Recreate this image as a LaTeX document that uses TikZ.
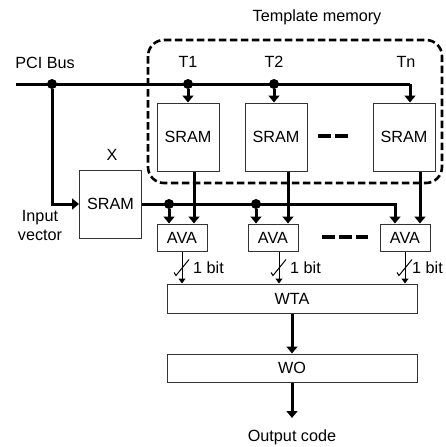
\documentclass[tikz,border=0pt]{standalone}
\usepackage{fontspec}
\setmainfont{Liberation Sans}
\usetikzlibrary{arrows.meta, positioning}

\begin{document}
\begin{tikzpicture}[x=1pt, y=-1pt,
    font=\fontsize{16.2}{19}\selectfont,
    blk/.style={rectangle, draw=black!80, line width=1pt, inner sep=0pt},
    sram/.style={blk, minimum width=62pt, minimum height=68pt},
    ava/.style={blk, minimum width=50pt, minimum height=27pt},
    wide/.style={blk, minimum width=250pt, minimum height=29pt},
    bus/.style={line width=3pt},
    arr/.style={bus, -{Triangle[length=7pt, width=11pt]}},
    bitarr/.style={line width=1pt, -{Triangle[length=5pt, width=7pt]}},
    dot/.style={circle, fill=black, inner sep=0pt, minimum size=10pt},
    gap/.style={line width=3.8pt, dash pattern=on 13pt off 4pt},
    frame/.style={line width=2.6pt, dash pattern=on 7.5pt off 3.5pt, rounded corners=16pt},
    lbl/.style={inner sep=1pt}
]
\useasboundingbox (0,0) rectangle (445,447);

% template memory
\draw[frame] (148,40) rectangle (442,183);
\node[lbl] (tmlbl) at (317,17) {Template memory};

\node[sram] (t1) at (188,137) {SRAM};
\node[sram] (t2) at (276,137) {SRAM};
\node[sram] (tn) at (404,137) {SRAM};
\node[lbl] at (188,62) {T1};
\node[lbl] at (274,62) {T2};
\node[lbl] at (406,62) {Tn};
\draw[gap] (318,136) -- (348,136);

% input side
\node[sram] (xs) at (110.5,204) {SRAM};
\node[lbl] at (112,155) {X};
\node[lbl, align=center] at (40,226) {Input\\vector};
\node[lbl] at (45,63) {PCI Bus};

% PCI bus
\coordinate (busL) at (16,84);
\coordinate (busR) at (410,84);
\node[dot] (d0) at (52,84) {};
\node[dot] (d1) at (188,84) {};
\node[dot] (d2) at (274,84) {};
\draw[bus] (busL) -- (busR);
\draw[arr] (busR) -- (busR |- tn.north);
\draw[arr] (d1) -- (d1 |- t1.north);
\draw[arr] (d2) -- (d2 |- t2.north);
\draw[arr] (d0) |- (xs.west);

% AVA stage
\node[ava] (ava1) at (182,237.5) {AVA};
\node[ava] (ava2) at (273,237.5) {AVA};
\node[ava] (ava3) at (405,237.5) {AVA};
\draw[gap] (322,237) -- (368,237);

\coordinate (v3) at (395,0);
\node[dot] (e1) at (169,204) {};
\node[dot] (e2) at (256,204) {};
\draw[arr] (xs.east) -| (ava3.north -| v3);
\draw[arr] (e1) -- (e1 |- ava1.north);
\draw[arr] (e2) -- (e2 |- ava2.north);

\draw[arr] ([xshift=6pt]t1.south) -- ([xshift=6pt]t1.south |- ava1.north);
\draw[arr] ([xshift=12pt]t2.south) -- ([xshift=12pt]t2.south |- ava2.north);
\draw[arr] ([xshift=16pt]tn.south) -- ([xshift=16pt]tn.south |- ava3.north);

% WTA and WO
\node[wide] (wta) at (292,298.5) {WTA};
\node[wide, minimum height=28pt] (wo) at (292,368) {WO};
\coordinate (out) at (292,418);
\node[lbl] (outlbl) at (292,437) {Output code};

\foreach \a/\s/\d in {ava1/0/10, ava2/6/10, ava3/0/6} {
  \draw[bitarr] ([xshift=\s pt]\a.south) -- ([xshift=\s pt]\a.south |- wta.north)
    coordinate[pos=0.5] (m);
  \draw[line width=1pt] ([shift={(-8,5)}]m) -- ([shift={(-6,8)}]m) -- ([shift={(7,-8)}]m);
  \node[lbl, right=\d pt of m] {1 bit};
}

\draw[arr] (wta) -- (wo);
\draw[arr] (wo) -- (out);
\end{tikzpicture}
\end{document}
